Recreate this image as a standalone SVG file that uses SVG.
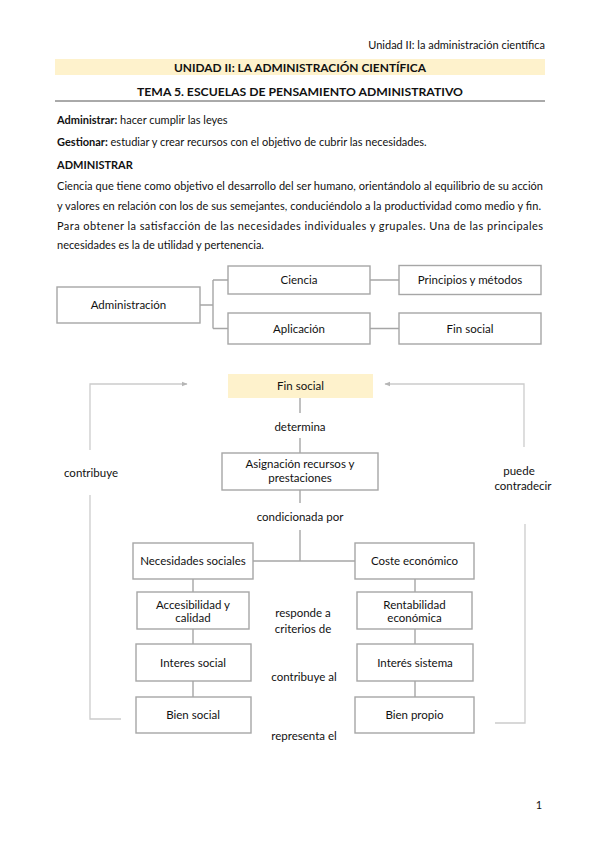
<svg xmlns="http://www.w3.org/2000/svg" width="599" height="848" viewBox="0 0 599 848">
<style>
.t{font-family:Lato,"Liberation Sans",sans-serif;font-size:11px;fill:#111}
.d{font-size:11.5px}
.c{text-anchor:middle}
.b{font-weight:bold}
.box{fill:#fff;stroke:#a6a6a6;stroke-width:1.4}
.hl{fill:#fef2cc;stroke:none}
.conn{fill:none;stroke:#a6a6a6;stroke-width:1.4}
.fb{fill:none;stroke:#cccccc;stroke-width:1.3}
</style>
<defs>
<marker id="arr" viewBox="0 0 10 10" refX="9" refY="5" markerWidth="6" markerHeight="6" orient="auto" markerUnits="userSpaceOnUse">
<path d="M0 1 L10 5 L0 9 Z" fill="#b5b5b5"/>
</marker>
</defs>
<rect width="599" height="848" fill="#fff"/>

<g id="page-text">
<text class="t" x="545" y="49" text-anchor="end" font-size="12">Unidad II: la administración científica</text>
<rect x="55" y="59" width="490" height="16" fill="#fef2cc"/>
<text class="t c b" x="300" y="72" font-size="13" textLength="252" lengthAdjust="spacingAndGlyphs">UNIDAD II: LA ADMINISTRACIÓN CIENTÍFICA</text>
<text class="t c b" x="300" y="96" font-size="14" textLength="326" lengthAdjust="spacingAndGlyphs">TEMA 5. ESCUELAS DE PENSAMIENTO ADMINISTRATIVO</text>
<line x1="55" y1="101" x2="545" y2="101" stroke="#555" stroke-width="1"/>
<text class="t" x="57" y="124"><tspan class="b">Administrar:</tspan> hacer cumplir las leyes</text>
<text class="t" x="57" y="146"><tspan class="b">Gestionar:</tspan> estudiar y crear recursos con el objetivo de cubrir las necesidades.</text>
<text class="t b" x="57" y="169">ADMINISTRAR</text>
<text class="t" x="57" y="190" textLength="486" lengthAdjust="spacing">Ciencia que tiene como objetivo el desarrollo del ser humano, orientándolo al equilibrio de su acción</text>
<text class="t" x="57" y="210" textLength="484" lengthAdjust="spacing">y valores en relación con los de sus semejantes, conduciéndolo a la productividad como medio y fin.</text>
<text class="t" x="57" y="230" textLength="486" lengthAdjust="spacing">Para obtener la satisfacción de las necesidades individuales y grupales. Una de las principales</text>
<text class="t" x="57" y="249">necesidades es la de utilidad y pertenencia.</text>
<text class="t" x="539" y="809" text-anchor="middle" font-size="12">1</text>
</g>

<g id="connectors">
<path class="conn" d="M200 305 H213 M213 280 V328.5 M213 280 H228 M213 328.5 H228 M370 280 H399 M370 328.5 H399"/>
<path class="conn" d="M300 398 V413 M300 438 V453 M300 490 V503 M300 530 V561 M253 561 H355"/>
<path class="conn" d="M193 579 V592 M193 629 V644 M193 681 V697 M415 579 V592 M415 629 V644 M415 681 V697"/>
<path class="fb" d="M121 719 H90 V495"/>
<path class="fb" d="M90 450 V384 H187" marker-end="url(#arr)"/>
<path class="fb" d="M495 723 H525 V524"/>
<path class="fb" d="M524 447 V384 H385" marker-end="url(#arr)"/>
</g>

<g id="lbl-determina"><text class="t d c" x="300" y="431">determina</text></g>
<g id="lbl-condicionada"><text class="t d c" x="300" y="521">condicionada por</text></g>
<g id="lbl-responde"><text class="t d c" x="303" y="617">responde a</text><text class="t d c" x="303" y="633">criterios de</text></g>
<g id="lbl-contribuye-al"><text class="t d c" x="304" y="681">contribuye al</text></g>
<g id="lbl-representa"><text class="t d c" x="304" y="740">representa el</text></g>
<g id="lbl-contribuye"><text class="t d c" x="91" y="477">contribuye</text></g>
<g id="lbl-puede"><text class="t d c" x="519" y="475">puede</text><text class="t d c" x="523" y="490">contradecir</text></g>

<g id="n-administracion"><rect class="box" x="57" y="287" width="143" height="36"/><text class="t d c" x="128.5" y="309">Administración</text></g>
<g id="n-ciencia"><rect class="box" x="228" y="266" width="142" height="28"/><text class="t d c" x="299" y="284">Ciencia</text></g>
<g id="n-principios"><rect class="box" x="399" y="265.5" width="142" height="29"/><text class="t d c" x="470" y="284">Principios y métodos</text></g>
<g id="n-aplicacion"><rect class="box" x="228" y="313" width="142" height="31"/><text class="t d c" x="299" y="332.5">Aplicación</text></g>
<g id="n-finsocial1"><rect class="box" x="399" y="313" width="142" height="31"/><text class="t d c" x="470" y="332.5">Fin social</text></g>

<g id="n-finsocial2"><rect class="hl" x="228" y="374" width="145" height="24"/><text class="t d c" x="300.5" y="390">Fin social</text></g>
<g id="n-asignacion"><rect class="box" x="222" y="453" width="156" height="37"/><text class="t d c" x="300" y="468">Asignación recursos y</text><text class="t d c" x="300" y="482">prestaciones</text></g>
<g id="n-necesidades"><rect class="box" x="133" y="543" width="120" height="36"/><text class="t d c" x="193" y="565">Necesidades sociales</text></g>
<g id="n-coste"><rect class="box" x="355" y="543" width="119" height="36"/><text class="t d c" x="414.5" y="565">Coste económico</text></g>
<g id="n-accesibilidad"><rect class="box" x="137" y="592" width="112" height="37"/><text class="t d c" x="193" y="609">Accesibilidad y</text><text class="t d c" x="193" y="622">calidad</text></g>
<g id="n-rentabilidad"><rect class="box" x="357" y="592" width="115" height="37"/><text class="t d c" x="414.5" y="609">Rentabilidad</text><text class="t d c" x="414.5" y="622">económica</text></g>
<g id="n-interes-social"><rect class="box" x="136" y="644" width="115" height="37"/><text class="t d c" x="193" y="666.5">Interes social</text></g>
<g id="n-interes-sistema"><rect class="box" x="357" y="644" width="116" height="37"/><text class="t d c" x="415" y="666.5">Interés sistema</text></g>
<g id="n-bien-social"><rect class="box" x="136" y="697" width="115" height="36"/><text class="t d c" x="193" y="719">Bien social</text></g>
<g id="n-bien-propio"><rect class="box" x="355" y="697" width="119" height="36"/><text class="t d c" x="414.5" y="719">Bien propio</text></g>
</svg>
